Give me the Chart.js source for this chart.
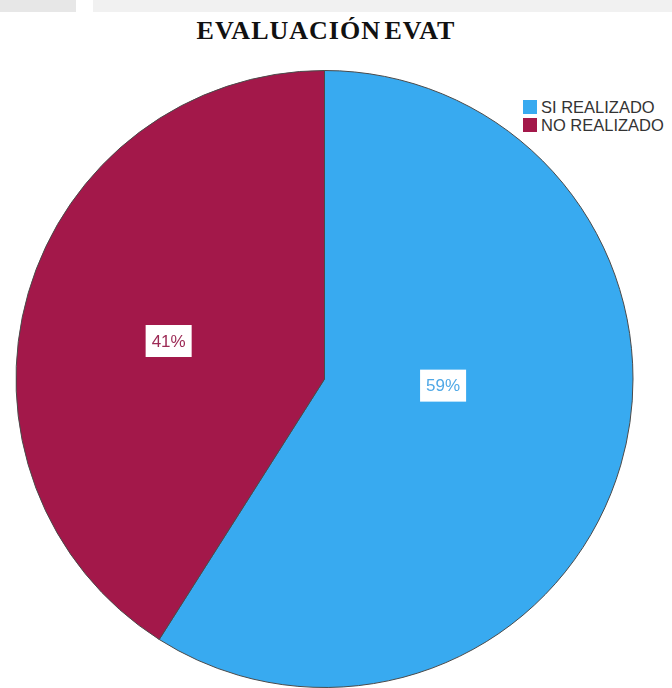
<!DOCTYPE html>
<html>
<head>
<meta charset="utf-8">
<script src="https://cdn.jsdelivr.net/npm/chart.js@4.4.1/dist/chart.umd.min.js"></script>
<style>
  html, body { margin: 0; padding: 0; background: #fff; }
  #page { position: relative; width: 672px; height: 688px; overflow: hidden; background: #fff; }
  .strip { position: absolute; top: 0; height: 12px; }
  #title {
    position: absolute; left: 176px; top: 16px; width: 300px; text-align: center; white-space: nowrap;
    font-family: "Liberation Serif", "Times New Roman", serif;
    font-weight: bold; font-size: 26px; line-height: 30px; color: #111; letter-spacing: 1px; word-spacing: -4px;
  }
  #legend { position: absolute; left: 523px; top: 99px; font-family: "Liberation Sans", Arial, sans-serif; font-size: 16.5px; color: #333; white-space: nowrap; }
  #legend div { height: 18px; line-height: 17px; }
  #legend span.box { display: inline-block; width: 14px; height: 14px; vertical-align: -1px; margin-right: 4px; }
  #wrap { position: absolute; left: 15px; top: 70px; width: 619px; height: 618px; }
</style>
</head>
<body>
<div id="page">
  <div class="strip" style="left:0;width:76px;background:#e7e7e7"></div>
  <div class="strip" style="left:93px;width:579px;background:#f1f1f1"></div>
  <div id="title">EVALUACIÓN EVAT</div>
  <div id="legend"></div>
  <div id="wrap"><canvas id="pie"></canvas></div>
</div>
<script>
const categories = ["SI REALIZADO", "NO REALIZADO"];
const percents = [59, 41];
const colors = ["#38aaf0", "#a3184a"];
const labelColors = ["#4fa8e6", "#9c2a55"];

// legend built from the same arrays
const legend = document.getElementById("legend");
categories.forEach((name, i) => {
  const row = document.createElement("div");
  row.innerHTML = `<span class="box" style="background:${colors[i]}"></span>${name}`;
  legend.appendChild(row);
});

// boxed percent labels inside the slices (SPSS style)
const sliceLabels = {
  id: "sliceLabels",
  afterDatasetsDraw(chart, args, opts) {
    const ctx = chart.ctx;
    const meta = chart.getDatasetMeta(0);
    ctx.save();
    ctx.font = "17px 'Liberation Sans', Arial, sans-serif";
    ctx.textAlign = "center";
    ctx.textBaseline = "middle";
    meta.data.forEach((arc, i) => {
      const p = arc.getProps(["x", "y", "startAngle", "endAngle", "outerRadius"], true);
      const place = opts.place[i];
      const a = (p.startAngle + p.endAngle) / 2 + place.da * Math.PI / 180;
      const r = p.outerRadius * place.r;
      const x = p.x + Math.cos(a) * r;
      const y = p.y + Math.sin(a) * r;
      const txt = chart.data.datasets[0].data[i] + "%";
      const w = ctx.measureText(txt).width + 12;
      ctx.fillStyle = "#fff";
      ctx.fillRect(x - w / 2, y - 16, w, 32);
      ctx.fillStyle = labelColors[i];
      ctx.fillText(txt, x, y + 1);
    });
    ctx.restore();
  }
};

new Chart(document.getElementById("pie"), {
  type: "pie",
  data: {
    labels: categories,
    datasets: [{
      data: percents,
      backgroundColor: colors,
      borderColor: "#4a4a4a",
      borderWidth: 1
    }]
  },
  options: {
    responsive: true,
    maintainAspectRatio: false,
    animation: false,
    layout: { padding: 0 },
    plugins: {
      legend: { display: false },
      tooltip: { enabled: false },
      sliceLabels: { place: [{ r: 0.385, da: -13 }, { r: 0.52, da: -2.5 }] }
    }
  },
  plugins: [sliceLabels]
});
</script>
</body>
</html>
